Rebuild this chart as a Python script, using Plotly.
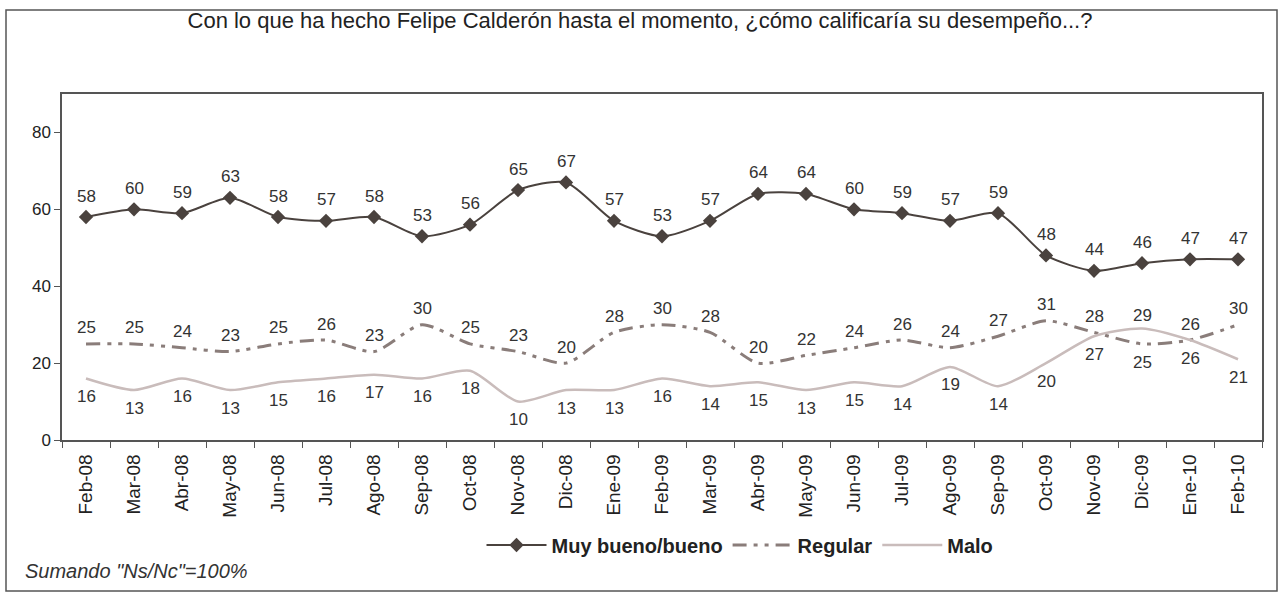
import plotly.graph_objects as go

categories = ["Feb-08", "Mar-08", "Abr-08", "May-08", "Jun-08", "Jul-08", "Ago-08", "Sep-08",
              "Oct-08", "Nov-08", "Dic-08", "Ene-09", "Feb-09", "Mar-09", "Abr-09", "May-09",
              "Jun-09", "Jul-09", "Ago-09", "Sep-09", "Oct-09", "Nov-09", "Dic-09", "Ene-10", "Feb-10"]
muy_bueno = [58, 60, 59, 63, 58, 57, 58, 53, 56, 65, 67, 57, 53, 57, 64, 64, 60, 59, 57, 59, 48, 44, 46, 47, 47]
regular = [25, 25, 24, 23, 25, 26, 23, 30, 25, 23, 20, 28, 30, 28, 20, 22, 24, 26, 24, 27, 31, 28, 25, 26, 30]
malo = [16, 13, 16, 13, 15, 16, 17, 16, 18, 10, 13, 13, 16, 14, 15, 13, 15, 14, 19, 14, 20, 27, 29, 26, 21]

# label placement: "a" = above the line, "b" = below the line
regular_side = ["a"] * 22 + ["b", "a", "a"]
malo_side = ["b"] * 22 + ["a", "b", "b"]

FONT = "Liberation Sans, Arial, sans-serif"
C_MB = "#4a423e"
C_REG = "#8a7d7a"
C_MALO = "#c9bcbb"

fig = go.Figure()
fig.add_trace(go.Scatter(
    x=categories, y=muy_bueno, name="<b>Muy bueno/bueno</b>", mode="lines+markers",
    line=dict(color=C_MB, width=2, shape="spline", smoothing=0.7),
    marker=dict(symbol="diamond", size=11, color=C_MB), hoverinfo="x+y"))
fig.add_trace(go.Scatter(
    x=categories, y=regular, name="<b>Regular</b>", mode="lines",
    line=dict(color=C_REG, width=3, shape="spline", smoothing=0.7,
              dash="14px,7px,4px,7px,4px,7px"), hoverinfo="x+y"))
fig.add_trace(go.Scatter(
    x=categories, y=malo, name="<b>Malo</b>", mode="lines",
    line=dict(color=C_MALO, width=2.5, shape="spline", smoothing=0.7), hoverinfo="x+y"))

LBL = dict(size=17, color="#333333", family=FONT)
for c, v in zip(categories, muy_bueno):
    fig.add_annotation(x=c, y=v, text=str(v), showarrow=False, yshift=21, font=LBL)
for c, v, s in zip(categories, regular, regular_side):
    fig.add_annotation(x=c, y=v, text=str(v), showarrow=False, yshift=16 if s == "a" else -19, font=LBL)
for c, v, s in zip(categories, malo, malo_side):
    fig.add_annotation(x=c, y=v, text=str(v), showarrow=False, yshift=13 if s == "a" else -18, font=LBL)

fig.update_layout(
    width=1281, height=597,
    margin=dict(l=62, r=19, t=94, b=157, autoexpand=False),
    paper_bgcolor="white", plot_bgcolor="white",
    font=dict(family=FONT, color="#333333"),
    title=dict(text="Con lo que ha hecho Felipe Calderón hasta el momento, ¿cómo calificaría su desempeño...?",
               x=(640 - 62) / 1200, xref="paper", xanchor="center", y=1 - 20 / 597, yanchor="middle",
               font=dict(size=22, color="#222222", family=FONT)),
    showlegend=True,
    legend=dict(orientation="h", x=0.565, xanchor="center", y=-0.3035, yanchor="middle",
                font=dict(size=20, color="#222222", family=FONT), itemwidth=60,
                bgcolor="rgba(0,0,0,0)"),
    xaxis=dict(type="category", range=[-0.5, 24.5], tickangle=-90, ticks="outside",
               tickson="boundaries", ticklen=6, ticklabelstandoff=5,
               tickcolor="#555555", showline=True, linecolor="#555555", linewidth=1.5, mirror=True,
               showgrid=False, tickfont=dict(size=19, color="#222222", family=FONT)),
    yaxis=dict(range=[0, 90], dtick=20, tick0=0, ticks="outside", ticklen=6, tickcolor="#555555",
               showline=True, linecolor="#555555", linewidth=1.5, mirror=True, showgrid=False,
               zeroline=False, tickfont=dict(size=17, color="#222222", family=FONT)),
)

fig.add_annotation(text="<i>Sumando \"Ns/Nc\"=100%</i>", xref="paper", yref="paper",
                   x=(23 - 62) / 1200, y=(440 - 571) / 346, xanchor="left", yanchor="middle",
                   showarrow=False, font=dict(size=20, color="#333333", family=FONT))

fig.add_shape(type="rect", xref="paper", yref="paper",
              x0=(6 - 62) / 1200, x1=(1277 - 62) / 1200,
              y0=(440 - 591) / 346, y1=(440 - 10) / 346,
              line=dict(color="#555555", width=1.5), fillcolor="rgba(0,0,0,0)", layer="below")

fig.write_html("out.html", config={"displayModeBar": False},
               post_script="document.body.style.margin='0';document.body.style.overflow='hidden';")
